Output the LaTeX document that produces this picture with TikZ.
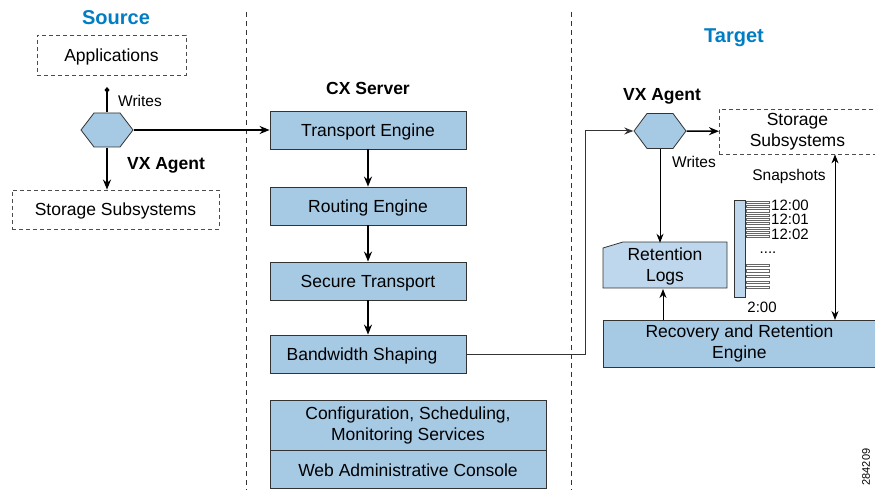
\documentclass[tikz,border=0pt]{standalone}
\usepackage{fontspec}
\setmainfont{Liberation Sans}
\usetikzlibrary{arrows.meta}
\definecolor{titleblue}{RGB}{0,125,195}
\definecolor{boxblue}{RGB}{166,201,228}
\definecolor{logblue}{RGB}{190,215,236}

\begin{document}
\begin{tikzpicture}[x=1pt,y=-1pt,
  txt/.style={font=\fontsize{17.5}{21}\selectfont, align=center},
  oneline/.style={text height=12.5pt, text depth=0pt},
  small/.style={font=\fontsize{15.5}{18}\selectfont},
  head/.style={font=\fontsize{17.5}{21}\selectfont\bfseries},
  title/.style={font=\fontsize{20}{24}\selectfont\bfseries, text=titleblue},
  dashbox/.style={draw=black!70, dash pattern=on 4pt off 3pt, line width=0.8pt, txt, inner sep=0pt},
  blockbox/.style={draw=black!80, fill=boxblue, line width=0.8pt, txt, inner sep=0pt, minimum width=196, minimum height=38},
  agent/.style={minimum width=53, minimum height=35, inner sep=0pt},
  hexfill/.style={draw=black!80, fill=boxblue, line width=0.8pt},
  flow/.style={line width=1.6pt, -{Stealth[length=10pt,width=8pt]}},
  link/.style={line width=1pt, -{Stealth[length=9pt,width=7pt]}},
  divider/.style={black!80, line width=0.8pt, dash pattern=on 5pt off 4pt},
  tick/.style={black!60, line width=0.5pt},
  stamp/.style={font=\fontsize{15}{14.5}\selectfont, inner sep=0pt}]
\useasboundingbox (0,0) rectangle (875,497);
% dividers
\draw[divider] (246,12) -- (246,490);
\draw[divider] (571,12) -- (571,490);
% source
\node[title] (source) at (116,18) {Source};
\node[dashbox, oneline, minimum width=149, minimum height=40] (apps) at (111.5,55) {Applications};
\filldraw[hexfill] (81,130) -- (94,113) -- (120,113) -- (133,130) -- (120,147) -- (94,147) -- cycle;
\node[agent] (srcagent) at (107,130) {};
\coordinate (writetip) at (107,87);
\draw[line width=1.2pt, -{Diamond[length=6pt,width=5pt]}] (srcagent) -- (writetip);
\node[small] (srcwrites) at (140,101) {Writes};
\node[head] (srcvx) at (166,165) {VX Agent};
\node[dashbox, oneline, minimum width=207, minimum height=39] (srcstore) at (115.5,209.5) {Storage Subsystems};
\draw[flow] (srcagent) -- (srcagent |- srcstore.north);
% cx server
\node[head] (cxserver) at (368,88) {CX Server};
\node[blockbox, oneline] (transport) at (368,130) {Transport Engine};
\node[blockbox, oneline] (routing) at (368,206) {Routing Engine};
\node[blockbox, oneline] (secure) at (368,281) {Secure Transport};
\node[blockbox, oneline] (bandwidth) at (368,354) {\hspace*{-12pt}Bandwidth Shaping};
\node[blockbox, minimum width=276, minimum height=50] (config) at (408,425) {Configuration, Scheduling,\\Monitoring Services};
\node[blockbox, oneline, minimum width=276, anchor=north] (console) at (config.south) {Web Administrative Console};
\draw[flow] (srcagent) -- (transport);
\draw[flow] (transport) -- (routing);
\draw[flow] (routing) -- (secure);
\draw[flow] (secure) -- (bandwidth);
% target
\node[title] (target) at (734,38) {Target};
\node[head] (tgtvx) at (662,96) {VX Agent};
\filldraw[hexfill] (634,131) -- (647,113.5) -- (673,113.5) -- (686,131) -- (673,148.5) -- (647,148.5) -- cycle;
\node[agent] (tgtagent) at (660,131) {};
\node[dashbox, minimum width=156, minimum height=45, anchor=west] (tgtstore) at (719,131.5) {Storage\\Subsystems};
\draw[flow] (tgtagent) -- (tgtstore);
\draw[link, black!80] (bandwidth.east) -- ++(119,0) |- (tgtagent);
\node[small] (tgtwrites) at (694,162) {Writes};
\filldraw[hexfill, fill=logblue] (603,248) -- (623,242) -- (727,242) -- (727,288) -- (603,288) -- cycle;
\node[txt, minimum width=124, minimum height=46, inner sep=0pt] (retention) at (665,266) {Retention\\Logs};
\node[blockbox, minimum width=272, minimum height=47, anchor=north west] (recovery) at (603,320) {Recovery and Retention\\Engine};
\draw[link] (tgtagent) -- (tgtagent |- retention.north);
\draw[link] (recovery.north -| tgtagent) ++(3,0) -- ++(0,-31);
\coordinate (snapcol) at (835,0);
\draw[line width=1pt, {Stealth[length=9pt,width=7pt]}-{Stealth[length=9pt,width=7pt]}] (tgtstore.south -| snapcol) -- (recovery.north -| snapcol);
% snapshots
\node[small] (snapshots) at (789,176) {Snapshots};
\node[draw=black!80, fill=logblue, line width=0.8pt, minimum width=11, minimum height=97, inner sep=0pt] (snapbar) at (740,248.5) {};
\foreach \i in {0,...,8}
  \draw[tick] (746,{201+4.3*\i}) rectangle ++(23,2.2);
\foreach \i in {0,...,4}
  \draw[tick] (746,{264+5.6*\i}) rectangle ++(23,2.2);
\node[stamp, align=left, anchor=north west] (times) at (771,199.5) {12:00\\12:01\\12:02};
\node[stamp] (tdots) at (768,253) {....};
\node[stamp] (t200) at (762,307) {2:00};
\node[rotate=90, font=\fontsize{11}{12}\selectfont] (fignum) at (866,467) {284209};
\end{tikzpicture}
\end{document}
